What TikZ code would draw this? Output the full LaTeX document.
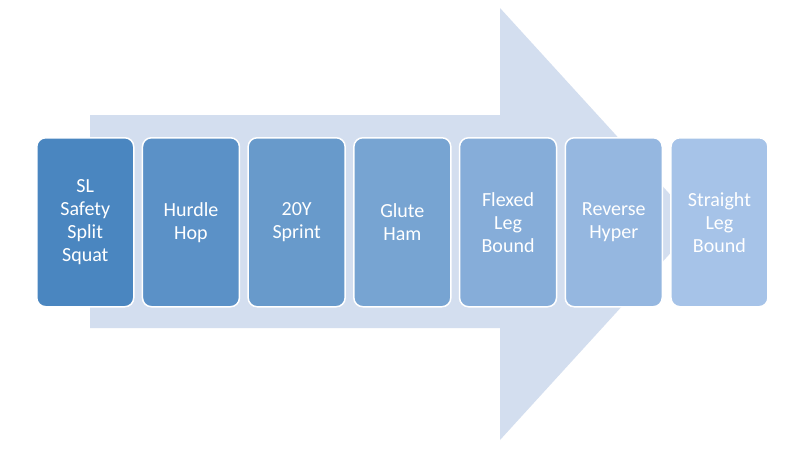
\documentclass[tikz,border=0pt]{standalone}
\usepackage{fontspec}
\setmainfont{Carlito}
\begin{document}
\begin{tikzpicture}[x=1pt,y=-1pt,
  stepbox/.style={draw=white,line width=1.5pt,rounded corners=9pt,minimum width=97pt,minimum height=169pt,
    text=white,font=\fontsize{20}{23}\selectfont,align=center,inner sep=0pt,anchor=north west}]
\useasboundingbox[fill=white] (0,0) rectangle (800,450);
\fill[fill={rgb,255:red,211;green,222;blue,239}] (90,115) -- (500,115) -- (500,8) -- (697,224) -- (500,440) -- (500,328) -- (90,328) -- cycle;
\foreach \i/\t/\r/\g/\b in {0/{SL\\Safety\\Split\\Squat}/74/134/192, 1/{Hurdle\\Hop}/91/145/199, 2/{20Y\\Sprint}/104/154/203, 3/{Glute\\Ham}/119/164/210, 4/{Flexed\\Leg\\Bound}/134/173/217, 5/{Reverse\\Hyper}/149/183/224, 6/{Straight\\Leg\\Bound}/166/195/232}
  \node[stepbox,fill={rgb,255:red,\r;green,\g;blue,\b}] (b\i) at ({36+105.7*\i},137) {\t};
\end{tikzpicture}
\end{document}
